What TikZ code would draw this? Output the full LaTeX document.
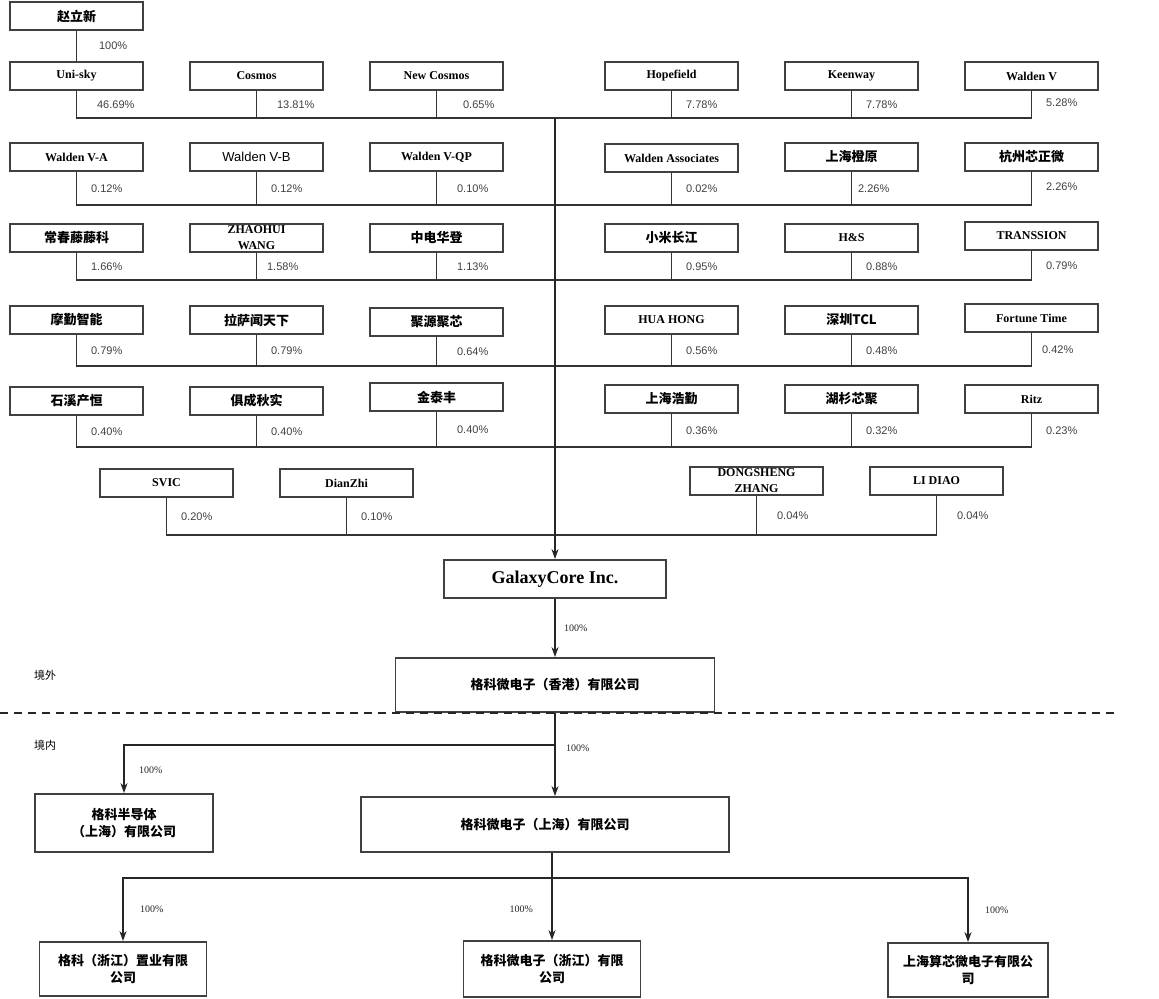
\documentclass[tikz,border=0pt]{standalone}
\usepackage{fontspec}
\setmainfont{Liberation Serif}
\newfontfamily\pctfont{Liberation Sans}
\newfontfamily\cjk{Noto Sans CJK SC}
\usetikzlibrary{arrows.meta, positioning, calc}

\begin{document}
\begin{tikzpicture}[x=0.5pt, y=-0.5pt,
    box/.style={draw=black!75, line width=0.9pt, fill=white, minimum width=66.5pt, minimum height=14pt, inner sep=0pt, align=center, font=\fontsize{6}{8}\selectfont\bfseries},
    cnbox/.style={box, font=\fontsize{6.5}{8.5}\selectfont\cjk\bfseries},
    link/.style={black!80, line width=0.6pt},
    trunk/.style={black!85, line width=1pt},
    arr/.style={-{Stealth[length=5pt, width=3.5pt]}},
    pct/.style={font=\fontsize{5.5}{6}\selectfont\pctfont, text=black!75, inner sep=0pt, anchor=west},
    share/.style={font=\fontsize{5}{6}\selectfont, inner sep=0pt},
    zone/.style={font=\fontsize{5.5}{6}\selectfont\cjk, inner sep=0pt},
]
    \useasboundingbox (0,0) rectangle (1159,998);

    % ══════════════════════════════════════════════
    % ══ ACCIONISTAS: FILA 1 ══
    % ══════════════════════════════════════════════
    \node[cnbox] (zhao) at (76.5,16) {赵立新};
    \node[box] (unisky) at (76.5,76) {Uni-sky};
    \node[box] (cosmos) at (256.5,76) {Cosmos};
    \node[box] (newcosmos) at (436.5,76) {New Cosmos};
    \node[box] (hopefield) at (671.5,76) {Hopefield};
    \node[box] (keenway) at (851.5,76) {Keenway};
    \node[box] (waldenv) at (1031.5,76) {Walden V};

    \draw[link] (zhao) -- (unisky) node[pct, midway, xshift=11pt] {100\%};

    \coordinate (bus1) at (555,118);
    \draw[link] (unisky.south) |- (bus1) node[pct, pos=0.25, xshift=10pt] {46.69\%};
    \draw[link] (cosmos.south) -- (cosmos.south |- bus1) node[pct, midway, xshift=10pt] {13.81\%};
    \draw[link] (newcosmos.south) -- (newcosmos.south |- bus1) node[pct, midway, xshift=13pt] {0.65\%};
    \draw[link] (hopefield.south) -- (hopefield.south |- bus1) node[pct, midway, xshift=7pt] {7.78\%};
    \draw[link] (keenway.south) -- (keenway.south |- bus1) node[pct, midway, xshift=7pt] {7.78\%};
    \draw[link] (waldenv.south) |- (bus1) node[pct, pos=0.22, xshift=7pt] {5.28\%};

    % ══ FILA 2 ══
    \node[box] (waldenva) at (76.5,157) {Walden V-A};
    \node[box, font=\fontsize{6.5}{8}\selectfont\pctfont] (waldenvb) at (256.5,157) {Walden V-B};
    \node[box] (waldenvqp) at (436.5,157) {Walden V-QP};
    \node[box] (waldenas) at (671.5,158) {Walden Associates};
    \node[cnbox] (chengyuan) at (851.5,157) {上海橙原};
    \node[cnbox] (xinzheng) at (1031.5,157) {杭州芯正微};

    \coordinate (bus2) at (555,205);
    \draw[link] (waldenva.south) |- (bus2) node[pct, pos=0.25, xshift=7pt] {0.12\%};
    \draw[link] (waldenvb.south) -- (waldenvb.south |- bus2) node[pct, midway, xshift=7pt] {0.12\%};
    \draw[link] (waldenvqp.south) -- (waldenvqp.south |- bus2) node[pct, midway, xshift=10pt] {0.10\%};
    \draw[link] (waldenas.south) -- (waldenas.south |- bus2) node[pct, midway, xshift=7pt] {0.02\%};
    \draw[link] (chengyuan.south) -- (chengyuan.south |- bus2) node[pct, midway, xshift=3pt] {2.26\%};
    \draw[link] (xinzheng.south) |- (bus2) node[pct, pos=0.22, xshift=7pt] {2.26\%};

    % ══ FILA 3 ══
    \node[cnbox] (ivy) at (76.5,238) {常春藤藤科};
    \node[box] (zhaohui) at (256.5,238) {ZHAOHUI\\WANG};
    \node[cnbox] (huadeng) at (436.5,238) {中电华登};
    \node[cnbox] (xiaomi) at (671.5,238) {小米长江};
    \node[box] (hs) at (851.5,238) {H\&S};
    \node[box] (transsion) at (1031.5,236) {TRANSSION};

    \coordinate (bus3) at (555,280);
    \draw[link] (ivy.south) |- (bus3) node[pct, pos=0.25, xshift=7pt] {1.66\%};
    \draw[link] (zhaohui.south) -- (zhaohui.south |- bus3) node[pct, midway, xshift=5pt] {1.58\%};
    \draw[link] (huadeng.south) -- (huadeng.south |- bus3) node[pct, midway, xshift=10pt] {1.13\%};
    \draw[link] (xiaomi.south) -- (xiaomi.south |- bus3) node[pct, midway, xshift=7pt] {0.95\%};
    \draw[link] (hs.south) -- (hs.south |- bus3) node[pct, midway, xshift=7pt] {0.88\%};
    \draw[link] (transsion.south) |- (bus3) node[pct, pos=0.25, xshift=7pt] {0.79\%};

    % ══ FILA 4 ══
    \node[cnbox] (moqin) at (76.5,320) {摩勤智能};
    \node[cnbox] (wentianxia) at (256.5,320) {拉萨闻天下};
    \node[cnbox] (juyuan) at (436.5,322) {聚源聚芯};
    \node[box] (huahong) at (671.5,320) {HUA HONG};
    \node[cnbox] (tcl) at (851.5,320) {深圳TCL};
    \node[box] (fortune) at (1031.5,318) {Fortune Time};

    \coordinate (bus4) at (555,366);
    \draw[link] (moqin.south) |- (bus4) node[pct, pos=0.25, xshift=7pt] {0.79\%};
    \draw[link] (wentianxia.south) -- (wentianxia.south |- bus4) node[pct, midway, xshift=7pt] {0.79\%};
    \draw[link] (juyuan.south) -- (juyuan.south |- bus4) node[pct, midway, xshift=10pt] {0.64\%};
    \draw[link] (huahong.south) -- (huahong.south |- bus4) node[pct, midway, xshift=7pt] {0.56\%};
    \draw[link] (tcl.south) -- (tcl.south |- bus4) node[pct, midway, xshift=7pt] {0.48\%};
    \draw[link] (fortune.south) |- (bus4) node[pct, pos=0.25, xshift=5pt] {0.42\%};

    % ══ FILA 5 ══
    \node[cnbox] (shixi) at (76.5,401) {石溪产恒};
    \node[cnbox] (jucheng) at (256.5,401) {俱成秋实};
    \node[cnbox] (jintaifeng) at (436.5,397) {金泰丰};
    \node[cnbox] (haoqin) at (671.5,399) {上海浩勤};
    \node[cnbox] (hushan) at (851.5,399) {湖杉芯聚};
    \node[box] (ritz) at (1031.5,399) {Ritz};

    \coordinate (bus5) at (555,447);
    \draw[link] (shixi.south) |- (bus5) node[pct, pos=0.25, xshift=7pt] {0.40\%};
    \draw[link] (jucheng.south) -- (jucheng.south |- bus5) node[pct, midway, xshift=7pt] {0.40\%};
    \draw[link] (jintaifeng.south) -- (jintaifeng.south |- bus5) node[pct, midway, xshift=10pt] {0.40\%};
    \draw[link] (haoqin.south) -- (haoqin.south |- bus5) node[pct, midway, xshift=7pt] {0.36\%};
    \draw[link] (hushan.south) -- (hushan.south |- bus5) node[pct, midway, xshift=7pt] {0.32\%};
    \draw[link] (ritz.south) |- (bus5) node[pct, pos=0.25, xshift=7pt] {0.23\%};

    % ══ FILA 6 ══
    \node[box] (svic) at (166.5,483) {SVIC};
    \node[box] (dianzhi) at (346.5,483) {DianZhi};
    \node[box] (dongsheng) at (756.5,481) {DONGSHENG\\ZHANG};
    \node[box] (lidiao) at (936.5,481) {LI DIAO};

    \coordinate (bus6) at (555,535);
    \draw[link] (svic.south) |- (bus6) node[pct, pos=0.25, xshift=7pt] {0.20\%};
    \draw[link] (dianzhi.south) -- (dianzhi.south |- bus6) node[pct, midway, xshift=7pt] {0.10\%};
    \draw[link] (dongsheng.south) -- (dongsheng.south |- bus6) node[pct, midway, xshift=10pt] {0.04\%};
    \draw[link] (lidiao.south) |- (bus6) node[pct, pos=0.25, xshift=10pt] {0.04\%};

    % ══════════════════════════════════════════════
    % ══ GALAXYCORE Y FILIALES ══
    % ══════════════════════════════════════════════
    \node[box, minimum width=111pt, minimum height=19pt, font=\fontsize{9}{10}\selectfont\bfseries] (galaxy) at (555,579) {GalaxyCore Inc.};
    \draw[trunk, arr] (bus1) -- (galaxy.north);

    \node[cnbox, minimum width=159.5pt, minimum height=27pt] (hk) at (555,685) {格科微电子（香港）有限公司};
    \draw[trunk, arr] (galaxy) -- (hk) node[share, midway, right=4pt] {100\%};

    % Frontera
    \draw[black!85, line width=0.9pt, dash pattern=on 4pt off 3pt] (0,713) -- (1115,713);
    \node[zone] (jingwai) at (45,675) {境外};
    \node[zone] (jingnei) at (45,745) {境内};

    \node[cnbox, minimum width=89pt, minimum height=29pt] (gksemi) at (124,823) {格科半导体\\（上海）有限公司};
    \node[cnbox, minimum width=184pt, minimum height=27.5pt] (gksh) at (545,824.5) {格科微电子（上海）有限公司};

    \coordinate (split) at (555,745);
    \draw[trunk, arr] (hk.south) -- (hk.south |- gksh.north) node[share, pos=0.42, right=5pt] {100\%};
    \draw[trunk, arr] (split) -| (gksemi.north) node[share, pos=0.76, right=7pt] {100\%};

    \node[cnbox, minimum width=83.5pt, minimum height=27pt] (gkzy) at (123,969) {格科（浙江）置业有限\\公司};
    \node[cnbox, minimum width=88.5pt, minimum height=28pt] (gkzj) at (552,969) {格科微电子（浙江）有限\\公司};
    \node[cnbox, minimum width=80pt, minimum height=27pt] (suanxin) at (968,970) {上海算芯微电子有限公\\司};

    \coordinate (fork) at (552,878);
    \draw[trunk] (fork |- gksh.south) -- (fork);
    \draw[trunk, arr] (fork) -- (gkzj.north) node[share, midway, left=9pt] {100\%};
    \draw[trunk, arr] (fork) -| (gkzy.north) node[share, pos=0.75, right=8pt] {100\%};
    \draw[trunk, arr] (fork) -| (suanxin.north) node[share, pos=0.75, right=8pt] {100\%};

\end{tikzpicture}
\end{document}
